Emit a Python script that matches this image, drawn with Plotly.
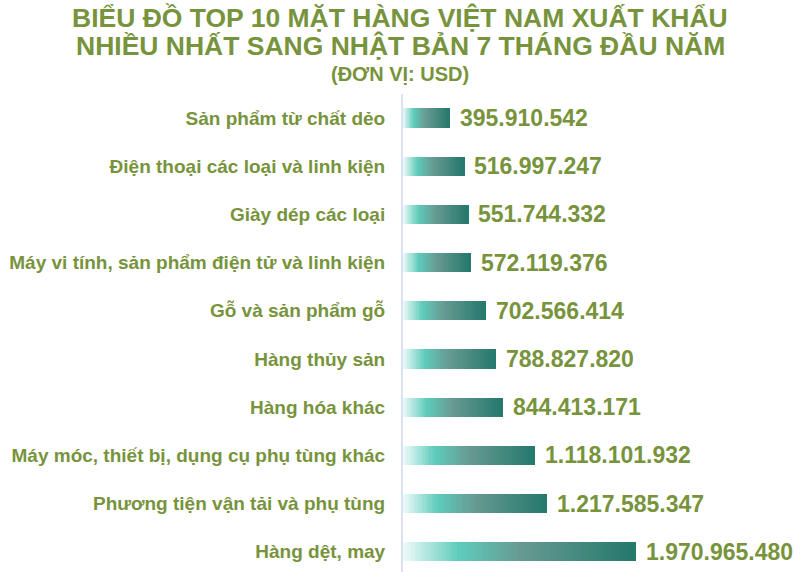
import plotly.graph_objects as go

# du lieu: 10 mat hang xuat khau sang Nhat Ban, 7 thang dau nam (USD)
categories = [
    "Sản phẩm từ chất dẻo",
    "Điện thoại các loại và linh kiện",
    "Giày dép các loại",
    "Máy vi tính, sản phẩm điện tử và linh kiện",
    "Gỗ và sản phẩm gỗ",
    "Hàng thủy sản",
    "Hàng hóa khác",
    "Máy móc, thiết bị, dụng cụ phụ tùng khác",
    "Phương tiện vận tải và phụ tùng",
    "Hàng dệt, may",
]
values = [395910542, 516997247, 551744332, 572119376, 702566414,
          788827820, 844413171, 1118101932, 1217585347, 1970965480]
value_labels = ["395.910.542", "516.997.247", "551.744.332", "572.119.376",
                "702.566.414", "788.827.820", "844.413.171", "1.118.101.932",
                "1.217.585.347", "1.970.965.480"]

OLIVE = "#77933c"
FONT = "Liberation Sans, Arial"
# diem dung cua dai mau (vi tri, rgb)
stops = [(0.0, (240, 250, 250)), (0.24, (94, 204, 188)),
         (0.5, (103, 154, 145)), (1.0, (36, 120, 108))]


def grad_color(t):
    for (p0, c0), (p1, c1) in zip(stops[:-1], stops[1:]):
        if t <= p1:
            f = (t - p0) / (p1 - p0)
            c = [round(a + (b - a) * f) for a, b in zip(c0, c1)]
            return "rgb(%d,%d,%d)" % tuple(c)
    return "rgb(%d,%d,%d)" % stops[-1][1]


fig = go.Figure()

# moi thanh chia thanh nhieu doan xep chong de tao hieu ung chuyen mau
n_seg = 60
for k in range(n_seg):
    fig.add_trace(go.Bar(
        x=[v / n_seg for v in values],
        y=categories,
        orientation="h",
        marker=dict(color=grad_color((k + 0.5) / n_seg), line=dict(width=0)),
        width=0.4,
        hoverinfo="skip",
        showlegend=False,
    ))

for cat, v, lab in zip(categories, values, value_labels):
    fig.add_annotation(x=v, y=cat, text=lab, showarrow=False,
                       xanchor="left", xshift=8,
                       font=dict(family=FONT, size=23, color=OLIVE,
                                 weight="bold"))

# tieu de (vi tri theo pixel cua trang)
top, plot_h, left, plot_w = 94, 478, 403, 398
title_lines = [
    ("BIỂU ĐỒ TOP 10 MẶT HÀNG VIỆT NAM XUẤT KHẨU", 26.5, 18),
    ("NHIỀU NHẤT SANG NHẬT BẢN 7 THÁNG ĐẦU NĂM", 26.5, 46),
    ("(ĐƠN VỊ: USD)", 20, 74),
]
for txt, sz, ypx in title_lines:
    fig.add_annotation(x=(400 - left) / plot_w, y=1 + (top - ypx) / plot_h,
                       xref="paper", yref="paper",
                       xanchor="center", yanchor="middle", text=txt,
                       showarrow=False,
                       font=dict(family=FONT, size=sz, color=OLIVE,
                                 weight="bold"))

fig.update_layout(
    width=801, height=572,
    barmode="stack",
    paper_bgcolor="white",
    plot_bgcolor="white",
    margin=dict(l=left, r=801 - left - plot_w, t=top, b=572 - top - plot_h),
    xaxis=dict(range=[0, 3.37e9], visible=False, fixedrange=True),
    yaxis=dict(
        range=[9.42, -0.5],
        automargin=False,
        fixedrange=True,
        showgrid=False,
        showline=True,
        linecolor="#dae3f3",
        linewidth=2,
        ticks="",
        ticklabelstandoff=12,
        tickfont=dict(family=FONT, size=19, color=OLIVE, weight="bold"),
    ),
)

# bo le mac dinh cua trang de hinh nam sat goc
fig.write_html("out.html", config={"displayModeBar": False},
               post_script="document.body.style.margin='0';")
